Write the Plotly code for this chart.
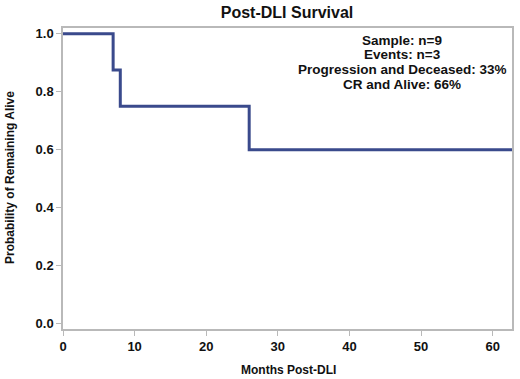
import plotly.graph_objects as go

# Kaplan-Meier step data
months = [0, 7, 8, 26, 63]
survival = [1.0, 0.875, 0.75, 0.6, 0.6]

x_ticks = [0, 10, 20, 30, 40, 50, 60]
y_ticks = [0.0, 0.2, 0.4, 0.6, 0.8, 1.0]
y_tick_labels = ["0.0", "0.2", "0.4", "0.6", "0.8", "1.0"]

stats_lines = [
    "Sample: n=9",
    "Events: n=3",
    "Progression and Deceased: 33%",
    "CR and Alive: 66%",
]

FONT = "Liberation Sans, Arial, sans-serif"
GRID = "#b9b9b9"
TXT = "#111111"
W, H = 520, 379
L, R, T, B = 63, 8, 28, 50

fig = go.Figure()
fig.add_trace(go.Scatter(
    x=months, y=survival, mode="lines", line_shape="hv",
    line=dict(color="#3a4a8c", width=3), hoverinfo="skip", showlegend=False,
))

def px_to_paper_y(py):
    return 1 - (py - T) / (H - T - B)

def px_to_paper_x(px):
    return (px - L) / (W - L - R)

annots = []
for i, s in enumerate(stats_lines):
    annots.append(dict(
        text=f"<b>{s}</b>", xref="paper", yref="paper",
        x=px_to_paper_x(402), y=px_to_paper_y(40 + 14.7 * i),
        xanchor="center", yanchor="middle", showarrow=False,
        font=dict(size=13.5, family=FONT, color=TXT),
    ))
annots.append(dict(
    text="<b>Probability of Remaining Alive</b>", xref="paper", yref="paper",
    x=px_to_paper_x(10), y=px_to_paper_y(178), textangle=-90,
    xanchor="center", yanchor="middle", showarrow=False,
    font=dict(size=12, family=FONT, color=TXT),
))
annots.append(dict(
    text="<b>Months Post-DLI</b>", xref="paper", yref="paper",
    x=px_to_paper_x(288), y=px_to_paper_y(370),
    xanchor="center", yanchor="middle", showarrow=False,
    font=dict(size=12, family=FONT, color=TXT),
))

fig.update_layout(
    width=W, height=H,
    margin=dict(l=L, r=R, t=T, b=B),
    paper_bgcolor="white", plot_bgcolor="white",
    font=dict(family=FONT, color=TXT),
    title=dict(text="<b>Post-DLI Survival</b>", x=287 / W,
               xanchor="center", y=1 - 12 / H, yanchor="middle",
               font=dict(size=16, family=FONT, color=TXT)),
    annotations=annots,
)

fig.update_xaxes(
    range=[0, 62.7], tickvals=x_ticks, ticktext=[f"<b>{v}</b>" for v in x_ticks],
    ticks="outside", ticklen=5, tickcolor=GRID, tickwidth=1,
    showline=True, linecolor=GRID, linewidth=1.5, mirror=True,
    showgrid=False, zeroline=False, automargin=False,
    tickfont=dict(size=13, family=FONT, color=TXT),
)
fig.update_yaxes(
    range=[-0.018, 1.02], tickvals=y_ticks, ticktext=[f"<b>{t}</b>" for t in y_tick_labels],
    ticks="outside", ticklen=5, tickcolor=GRID, tickwidth=1,
    showline=True, linecolor=GRID, linewidth=1.5, mirror=True,
    showgrid=False, zeroline=False, automargin=False,
    tickfont=dict(size=13, family=FONT, color=TXT),
)

fig.write_html("out.html", config={"displayModeBar": False},
               post_script="document.body.style.margin='0';")
